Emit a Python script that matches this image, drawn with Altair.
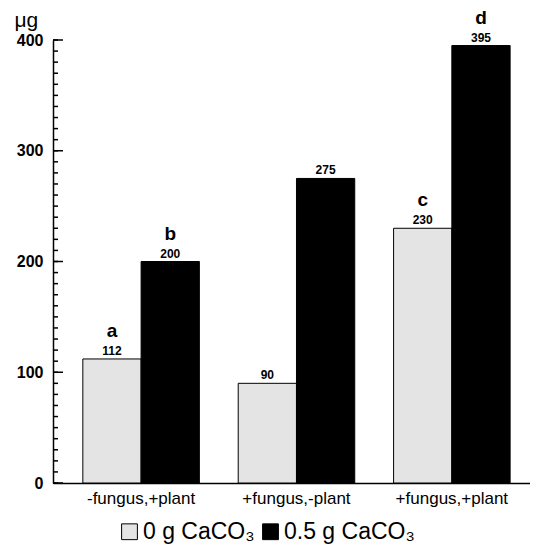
import altair as alt
import pandas as pd

FONT = "Liberation Sans"

groups = ["-fungus,+plant", "+fungus,-plant", "+fungus,+plant"]
treatments = ["0 g CaCO₃", "0.5 g CaCO₃"]
values_0g = [112, 90, 230]
values_05g = [200, 275, 395]
letters_0g = ["a", "", "c"]
letters_05g = ["b", "", "d"]
y_labels = [0, 100, 200, 300, 400]
minor_step = 10
major_step = 100

rows = []
for i, g in enumerate(groups):
    rows.append(dict(group=g, treatment=treatments[0], value=values_0g[i], letter=letters_0g[i]))
    rows.append(dict(group=g, treatment=treatments[1], value=values_05g[i], letter=letters_05g[i]))
df = pd.DataFrame(rows)

ticks = pd.DataFrame({"value": list(range(0, 401, minor_step))})
ticks["major"] = ticks["value"] % major_step == 0

x_enc = alt.X(
    "group:N", sort=groups,
    scale=alt.Scale(paddingInner=0.25, paddingOuter=0.16, align=0.6),
    axis=alt.Axis(title=None, labelAngle=0, ticks=False, domainColor="black",
                  domainWidth=1.5, labelFontSize=17, labelFont=FONT,
                  labelColor="black", labelPadding=7, labelBaseline="top"),
)
xoff_enc = alt.XOffset("treatment:N", sort=treatments,
                       scale=alt.Scale(paddingInner=0, paddingOuter=0))
y_enc = alt.Y(
    "value:Q", scale=alt.Scale(domain=[0, 400], nice=False),
    axis=alt.Axis(values=y_labels, ticks=False, grid=False, domainColor="black",
                  domainWidth=1.5, labelFontSize=16, labelFontWeight="bold",
                  labelFont=FONT, labelColor="black", labelPadding=10,
                  title="μg", titleAngle=0, titleAlign="left",
                  titleBaseline="alphabetic", titleX=-39, titleY=-14,
                  titleFontSize=21, titleFontWeight="normal", titleFont=FONT,
                  titleColor="black"),
)
color_enc = alt.Color(
    "treatment:N", sort=treatments,
    scale=alt.Scale(domain=treatments, range=["#e4e4e4", "black"]),
    legend=alt.Legend(title=None, orient="none", legendX=65, legendY=480,
                      direction="horizontal", symbolType="square", symbolSize=250,
                      symbolStrokeColor="black", symbolStrokeWidth=1,
                      labelFontSize=23, labelFont=FONT, labelColor="black",
                      labelOffset=2, columnPadding=4),
)

base = alt.Chart(df)
bars = base.mark_bar(stroke="black", strokeWidth=1).encode(
    x=x_enc, xOffset=xoff_enc, y=y_enc, color=color_enc)
vals = base.mark_text(dy=-4, baseline="alphabetic", fontSize=12,
                      fontWeight="bold", font=FONT, color="black").encode(
    x=x_enc, xOffset=xoff_enc, y=y_enc, text="value:Q")
lets = base.mark_text(dy=-22, baseline="alphabetic", fontSize=19,
                      fontWeight="bold", font=FONT, color="black").encode(
    x=x_enc, xOffset=xoff_enc, y=y_enc, text="letter:N")

tick_base = alt.Chart(ticks)
minor = tick_base.mark_rule(color="black", strokeWidth=1.5).encode(
    y=y_enc, x=alt.value(0), x2=alt.value(5))
major = tick_base.transform_filter("datum.major").mark_rule(
    color="black", strokeWidth=1.5).encode(
    y=y_enc, x=alt.value(0), x2=alt.value(10))

chart = alt.layer(bars, minor, major, vals, lets).properties(
    width=477, height=443,
    padding={"left": 45, "top": 32, "right": 0, "bottom": 65},
    autosize="none",
).configure_view(stroke=None)

chart.save("out.html", embed_options={"renderer": "svg", "actions": False})
